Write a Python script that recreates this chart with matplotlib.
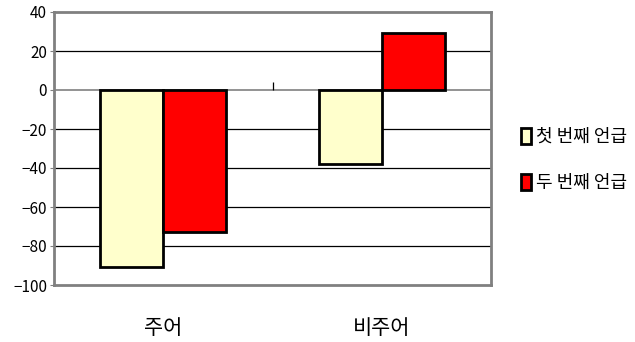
import numpy as np
import matplotlib
matplotlib.use("Agg")
import matplotlib.pyplot as plt
from matplotlib.patches import Patch

plt.rcParams['font.family'] = ['Noto Sans CJK KR', 'DejaVu Sans']
plt.rcParams['axes.unicode_minus'] = True

categories = ["주어", "비주어"]
series_names = ["첫 번째 언급", "두 번째 언급"]
first_mention = [-91, -38]
second_mention = [-73, 29]
yticks = [40, 20, 0, -20, -40, -60, -80, -100]

colors = ["#ffffcc", "#ff0000"]

fig = plt.figure(figsize=(6.35, 3.42), dpi=100)
ax = fig.add_axes([54 / 635, 57 / 342, 437 / 635, 273 / 342])

x = np.arange(len(categories))
width = 0.288
ax.bar(x - width / 2, first_mention, width, color=colors[0],
       edgecolor="black", linewidth=2, zorder=3)
ax.bar(x + width / 2, second_mention, width, color=colors[1],
       edgecolor="black", linewidth=2, zorder=3)

ax.set_xlim(-0.5, 1.5)
ax.set_ylim(-100, 40)
ax.set_yticks(yticks)
ax.set_yticklabels([f"{v}".replace("-", "\u2212") for v in yticks], fontsize=11)
ax.tick_params(axis="y", length=3, color="#808080", pad=2)

# horizontal gridlines, zero line in gray
for v in yticks:
    if v in (40, -100):
        continue
    ax.axhline(v, color="#808080" if v == 0 else "black",
               linewidth=1.2 if v == 0 else 0.9, zorder=1)

# category boundary ticks on the zero line
ax.vlines([0.5, 1.5], 0, 4, color="black", linewidth=0.9, zorder=2)

ax.set_xticks(x)
ax.set_xticklabels(categories, fontsize=15)
ax.tick_params(axis="x", length=0, pad=23)

for s in ax.spines.values():
    s.set_color("#808080")
    s.set_linewidth(2)

handles = [Patch(facecolor=c, edgecolor="black", linewidth=2) for c in colors]
fig.legend(handles, series_names, loc="center left",
           bbox_to_anchor=(521 / 635, 1 - 160 / 342), frameon=False,
           fontsize=13, handlelength=0.55, handleheight=0.95,
           handletextpad=0.3, labelspacing=1.55, borderpad=0,
           borderaxespad=0)

fig.savefig("out.png", dpi=100)
